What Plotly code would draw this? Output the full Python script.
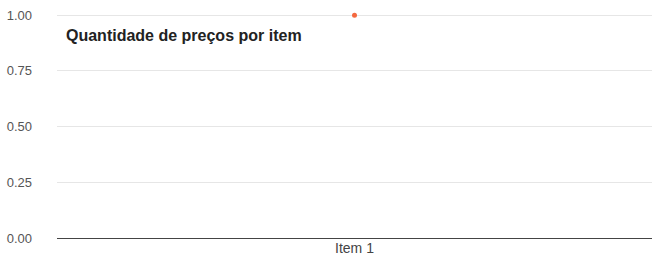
import plotly.graph_objects as go

categories = ["Item 1"]
values = [1.0]
y_ticks = [0, 0.25, 0.5, 0.75, 1.0]
y_tick_labels = ["0.00", "0.25", "0.50", "0.75", "1.00"]
title_text = "Quantidade de preços por item"

FONT = "Liberation Sans, Arial, sans-serif"

fig = go.Figure()
fig.add_trace(go.Scatter(
    x=categories, y=values, mode="markers",
    marker=dict(color="#f4683f", size=5, line=dict(width=0)),
    cliponaxis=False,
    hoverinfo="x+y", showlegend=False,
))

fig.update_layout(
    template="none",
    width=652, height=266,
    margin=dict(l=57, r=0, t=13, b=28, autoexpand=False),
    paper_bgcolor="white", plot_bgcolor="white",
    font=dict(family=FONT, size=13, color="#555555"),
    xaxis=dict(
        showgrid=False, zeroline=False, showline=False, automargin=False,
        ticks="", tickfont=dict(size=14, color="#444444"),
    ),
    yaxis=dict(
        range=[0, 1.01], tickvals=y_ticks, ticktext=y_tick_labels,
        showgrid=True, gridcolor="#e6e6e6", gridwidth=1,
        zeroline=True, zerolinecolor="#444444", zerolinewidth=1,
        showline=False, ticks="", ticklabelstandoff=24, automargin=False,
        ticklabeloverflow="allow",
        tickfont=dict(size=13, color="#555555"),
    ),
    annotations=[dict(
        text="<b>" + title_text + "</b>",
        xref="paper", yref="paper", x=0.0, xshift=7, y=0.945,
        xanchor="left", yanchor="top", showarrow=False,
        font=dict(family=FONT, size=16, color="#222222"),
    )],
)

fig.write_html(
    "out.html",
    default_width="652px", default_height="266px",
    config={"displayModeBar": False},
    post_script="document.body.style.margin='0';document.body.style.overflow='hidden';",
)
